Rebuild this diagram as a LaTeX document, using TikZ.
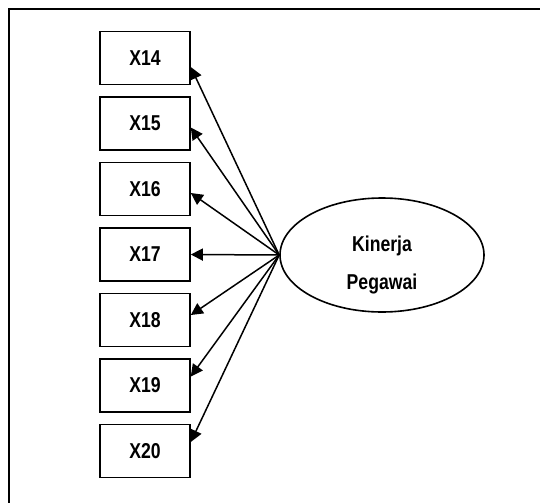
\documentclass[tikz,border=0pt]{standalone}
\usepackage{fontspec}
\setmainfont{Liberation Sans}[FakeStretch=0.82]
\usetikzlibrary{arrows.meta, shapes.geometric}

\begin{document}
\begin{tikzpicture}[x=1pt, y=-1pt,
  indicator/.style={draw, line width=1.6pt, minimum width=90pt, minimum height=53pt,
    inner sep=0pt, font=\fontsize{21.5}{23}\selectfont\bfseries},
  latent/.style={draw, ellipse, line width=1.6pt, minimum width=204pt,
    minimum height=114pt, inner sep=0pt},
  loading/.style={line width=1.5pt, -{Triangle[length=12pt, width=12pt]}}]
\useasboundingbox (0,0) rectangle (540,503);
% Frame
\draw[line width=2.2pt] (540,9) -- (9,9) -- (9,503);
% Indicators
\foreach \n [count=\i from 0] in {14,...,20} {
    \node[indicator] (x\n) at (145, 58+65.5*\i) {X\n};
}
% Latent variable
\node[latent] (kp) at (382,255) {};
\node[font=\fontsize{21.5}{23}\selectfont\bfseries, align=center] (kpl)
    at ([yshift=-10pt]kp.center) {Kinerja\\[15pt]Pegawai};
% Loadings
\foreach \n/\off in {14/-9, 15/-4, 16/-4, 17/0, 18/5, 19/9, 20/9} {
    \draw[loading] (kp.west) -- ([yshift=\off pt]x\n.east);
}
\end{tikzpicture}
\end{document}
